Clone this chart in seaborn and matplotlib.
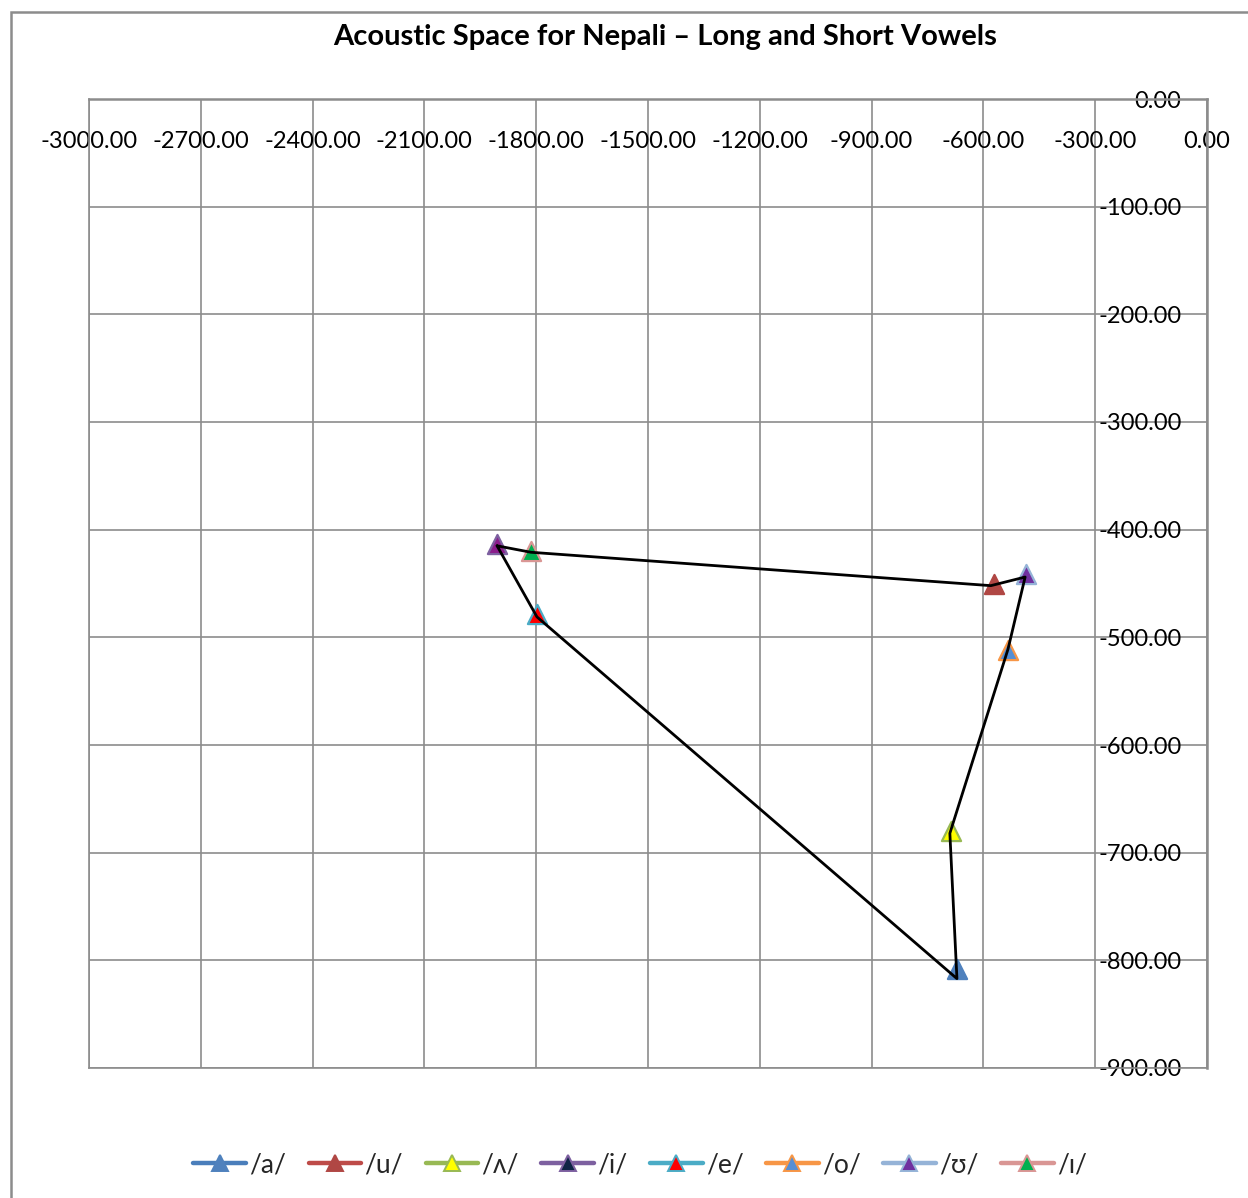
import matplotlib
matplotlib.use("Agg")
import matplotlib.pyplot as plt
from matplotlib.lines import Line2D
from matplotlib.patches import Rectangle
import seaborn as sns
import pandas as pd

# Vowel formant means (negated F2 on x, negated F1 on y)
vowels = ["/a/", "/u/", "/\u028c/", "/i/", "/e/", "/o/", "/\u028a/", "/\u026a/"]
f2_neg = [-671, -572, -687, -1905, -1798, -534, -486, -1814]
f1_neg = [-808, -450, -680, -413, -478, -512, -441, -420]

# Series styling: line colour, marker fill on the chart, marker fill in the legend, marker edge
line_colors = ["#4A7EBB", "#BE4B48", "#98B954", "#7D60A0", "#4BACC6", "#F79646", "#95B3D7", "#D99694"]
fill_colors = ["#4F81BD", "#B04744", "#FFFF00", "#8B1C8B", "#FF0000", "#558ED5", "#7030A0", "#00B050"]
legend_fills = ["#4F81BD", "#B04744", "#FFFF00", "#0F2545", "#FF0000", "#558ED5", "#7030A0", "#00B050"]
edge_colors = ["#4F81BD", "#B04744", "#98B954", "#7D60A0", "#4BACC6", "#F79646", "#95B3D7", "#D99694"]

# Outline of the vowel space
outline_x = [-1905, -1814, -580, -488, -534, -690, -671, -1798, -1905]
outline_y = [-415, -421, -452, -444, -511, -682, -817, -481, -415]

x_ticks = [-3000, -2700, -2400, -2100, -1800, -1500, -1200, -900, -600, -300, 0]
y_ticks = [0, -100, -200, -300, -400, -500, -600, -700, -800, -900]

sns.set_theme(style="white")
plt.rcParams["font.family"] = ["Lato", "DejaVu Sans"]

W, H = 1248, 1198
fig = plt.figure(figsize=(W / 100, H / 100), dpi=100)
fig.patch.set_facecolor("white")
ax = fig.add_axes([89 / W, 1 - 1068 / H, (1207 - 89) / W, (1068 - 99) / H])
ax.set_facecolor("white")

# Chart area border
fig.add_artist(Rectangle((11 / W, -0.1), 1.2, 1 - 12 / H + 0.1, transform=fig.transFigure,
                         fill=False, edgecolor="#8C8C8C", linewidth=1.8, zorder=0))

df = pd.DataFrame({"vowel": vowels, "x": f2_neg, "y": f1_neg})
for i, v in enumerate(vowels):
    sub = df[df["vowel"] == v]
    sns.scatterplot(data=sub, x="x", y="y", ax=ax, marker="^", s=190,
                    color=fill_colors[i], edgecolor=edge_colors[i], linewidth=1.6,
                    legend=False, zorder=3)

out = pd.DataFrame({"x": outline_x, "y": outline_y})
sns.lineplot(data=out, x="x", y="y", ax=ax, sort=False, estimator=None,
             color="black", linewidth=2.0, zorder=4)

ax.set_xlim(-3000, 0)
ax.set_ylim(-900, 0)
ax.set_xticks(x_ticks)
ax.set_xticklabels([f"{t:.2f}" for t in x_ticks])
ax.set_yticks(y_ticks)
ax.set_yticklabels([f"{t:.2f}" for t in y_ticks])
ax.set_xlabel("")
ax.set_ylabel("")

ax.grid(True, color="#8C8C8C", linewidth=1.2)
ax.set_axisbelow(True)
for s in ax.spines.values():
    s.set_color("#8C8C8C")
    s.set_linewidth(1.2)
ax.spines["top"].set_linewidth(1.8)
ax.spines["right"].set_linewidth(1.8)

ax.xaxis.tick_top()
ax.tick_params(axis="x", which="both", top=False, bottom=False, labeltop=True,
               labelbottom=False, pad=-44, labelsize=17, colors="black")
ax.yaxis.tick_right()
ax.tick_params(axis="y", which="both", left=False, right=False, labelright=True,
               labelleft=False, pad=-24.3, labelsize=17, colors="black")
for lab in ax.get_yticklabels():
    lab.set_horizontalalignment("right")
for lab in ax.get_xticklabels():
    lab.set_verticalalignment("bottom")

fig.text(665 / W, 1 - 37 / H, "Acoustic Space for Nepali \u2013 Long and Short Vowels",
         ha="center", va="center", fontsize=21, fontweight="bold", color="black")

handles = [Line2D([0], [0], color=line_colors[i], linewidth=3.2, marker="^", markersize=11,
                  markerfacecolor=legend_fills[i], markeredgecolor=edge_colors[i],
                  markeredgewidth=1.4, solid_capstyle="round")
           for i in range(len(vowels))]
fig.legend(handles, vowels, loc="center", bbox_to_anchor=(640 / W, 1 - 1165 / H),
           ncol=8, frameon=False, fontsize=19, handlelength=2.0, handletextpad=0.12,
           columnspacing=0.85, borderaxespad=0)

fig.savefig("out.png", dpi=100, facecolor="white")
